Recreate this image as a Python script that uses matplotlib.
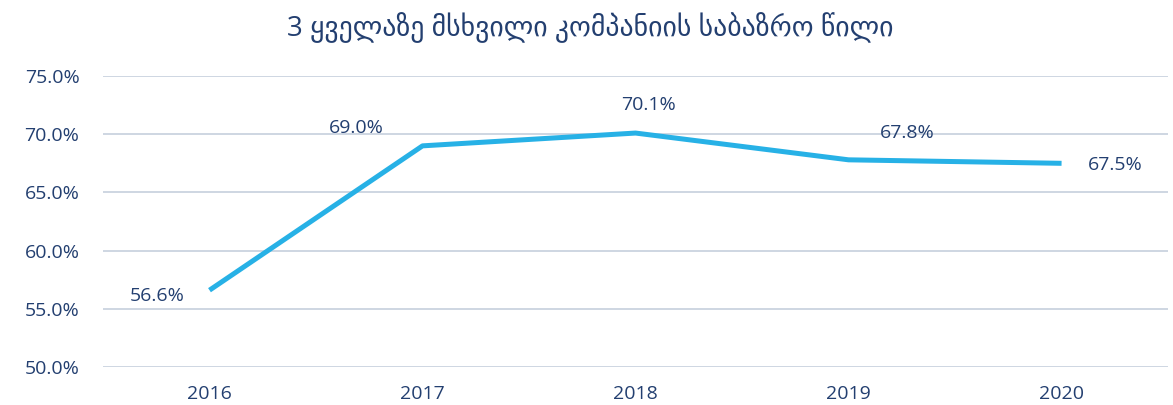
import matplotlib
matplotlib.use('Agg')
import matplotlib.pyplot as plt
from matplotlib.ticker import PercentFormatter

# data
years = ['2016', '2017', '2018', '2019', '2020']
share = [56.6, 69.0, 70.1, 67.8, 67.5]
y_ticks = [50, 55, 60, 65, 70, 75]
# label offsets (points) for each value label
label_offsets = [(-38, -4), (-48, 13), (9, 20), (42, 19), (39, -1)]

navy = '#233f70'
blue = '#27b1e6'
grid_col = '#c6d0dd'

plt.rcParams['font.family'] = ['Open Sans', 'DejaVu Sans']

fig = plt.figure(figsize=(11.73, 4.05), dpi=100)
ax = fig.add_axes([0.0878, 0.0938, 0.908, 0.7185])

x = list(range(len(years)))
ax.plot(x, share, color=blue, lw=3.6, solid_capstyle='butt', zorder=3)

for xi, v, off in zip(x, share, label_offsets):
    ax.annotate(f'{v:.1f}%', (xi, v), xytext=off, textcoords='offset points',
                ha='center', va='center', fontsize=14, color=navy)

ax.set_xlim(-0.5, len(years) - 0.5)
ax.set_ylim(50, 75)
ax.set_yticks(y_ticks)
ax.yaxis.set_major_formatter(PercentFormatter(decimals=1))
ax.set_xticks(x)
ax.set_xticklabels(years)
ax.tick_params(axis='both', length=0, labelsize=14, labelcolor=navy)
ax.tick_params(axis='y', pad=17)
ax.tick_params(axis='x', pad=13)
ax.grid(axis='y', color=grid_col, lw=1.2)
ax.set_axisbelow(True)
for s in ax.spines.values():
    s.set_visible(False)

fig.text(0.503, 0.933, '3 ყველაზე მსხვილი კომპანიის საბაზრო წილი',
         ha='center', va='center', fontsize=20, color=navy,
         family=['Open Sans', 'DejaVu Sans'])

fig.savefig('out.png', dpi=100)
